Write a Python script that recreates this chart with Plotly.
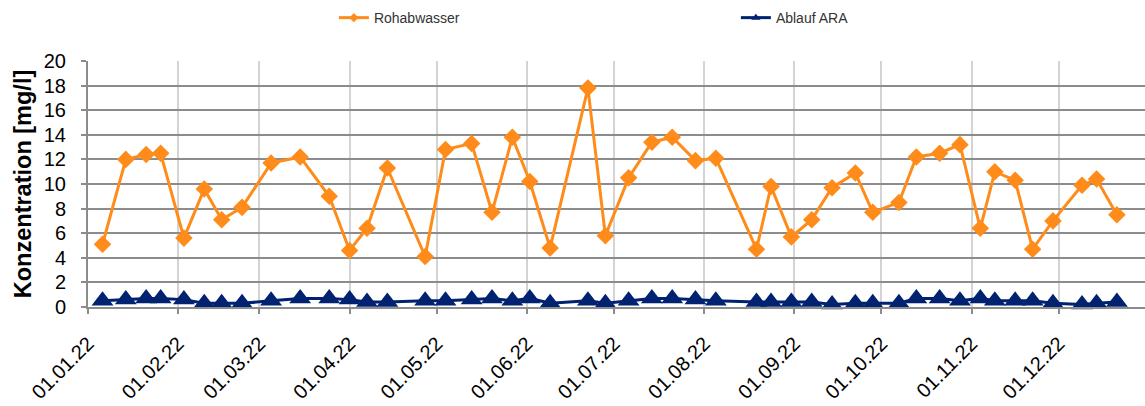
import plotly.graph_objects as go

dates = ["2022-01-06", "2022-01-14", "2022-01-21", "2022-01-26", "2022-02-03", "2022-02-10",
         "2022-02-16", "2022-02-23", "2022-03-05", "2022-03-15", "2022-03-25", "2022-04-01",
         "2022-04-07", "2022-04-14", "2022-04-27", "2022-05-04", "2022-05-13", "2022-05-20",
         "2022-05-27", "2022-06-02", "2022-06-09", "2022-06-22", "2022-06-28", "2022-07-06",
         "2022-07-14", "2022-07-21", "2022-07-29", "2022-08-05", "2022-08-19", "2022-08-24",
         "2022-08-31", "2022-09-07", "2022-09-14", "2022-09-22", "2022-09-28", "2022-10-07",
         "2022-10-13", "2022-10-21", "2022-10-28", "2022-11-04", "2022-11-09", "2022-11-16",
         "2022-11-22", "2022-11-29", "2022-12-09", "2022-12-14", "2022-12-21"]

rohabwasser = [5.1, 12.0, 12.4, 12.5, 5.6, 9.6, 7.1, 8.1, 11.7, 12.2, 9.0, 4.6,
               6.4, 11.3, 4.1, 12.8, 13.3, 7.7, 13.8, 10.2, 4.8, 17.8, 5.8, 10.5,
               13.4, 13.8, 11.9, 12.1, 4.7, 9.8, 5.7, 7.1, 9.7, 10.9, 7.7, 8.5,
               12.2, 12.5, 13.2, 6.4, 11.0, 10.3, 4.7, 7.0, 9.9, 10.4, 7.5]

ablauf_ara = [0.5, 0.6, 0.7, 0.7, 0.6, 0.3, 0.3, 0.3, 0.5, 0.7, 0.7, 0.6,
              0.4, 0.4, 0.5, 0.5, 0.6, 0.7, 0.5, 0.7, 0.3, 0.5, 0.3, 0.5,
              0.7, 0.7, 0.6, 0.5, 0.4, 0.4, 0.4, 0.4, 0.2, 0.3, 0.3, 0.3,
              0.7, 0.7, 0.5, 0.7, 0.5, 0.5, 0.5, 0.3, 0.2, 0.3, 0.4]

tick_dates = ["2022-01-01", "2022-02-01", "2022-03-01", "2022-04-01", "2022-05-01", "2022-06-01",
              "2022-07-01", "2022-08-01", "2022-09-01", "2022-10-01", "2022-11-01", "2022-12-01"]
tick_labels = ["01.01.22", "01.02.22", "01.03.22", "01.04.22", "01.05.22", "01.06.22",
               "01.07.22", "01.08.22", "01.09.22", "01.10.22", "01.11.22", "01.12.22"]

ORANGE = "#FF8C1A"
NAVY = "#002270"
FONT = "Liberation Sans, Arial, sans-serif"

fig = go.Figure()
fig.add_trace(go.Scatter(
    x=dates, y=rohabwasser, mode="lines+markers", name="Rohabwasser",
    line=dict(color=ORANGE, width=3),
    marker=dict(symbol="diamond", size=13.5, color=ORANGE),
    cliponaxis=False, showlegend=False))
fig.add_trace(go.Scatter(
    x=dates, y=ablauf_ara, mode="lines+markers", name="Ablauf ARA",
    line=dict(color=NAVY, width=3),
    marker=dict(symbol="triangle-up", size=19, color=NAVY),
    cliponaxis=False, showlegend=False))
# legend entries (small markers as in the reference legend)
fig.add_trace(go.Scatter(
    x=[None], y=[None], mode="lines+markers", name="Rohabwasser",
    line=dict(color=ORANGE, width=3),
    marker=dict(symbol="diamond", size=7, color=ORANGE)))
fig.add_trace(go.Scatter(
    x=[None], y=[None], mode="lines+markers", name="Ablauf ARA",
    line=dict(color=NAVY, width=3),
    marker=dict(symbol="triangle-up", size=8, color=NAVY)))

fig.update_layout(
    width=1145, height=406,
    margin=dict(l=88, r=0, t=61, b=99, autoexpand=False),
    paper_bgcolor="white", plot_bgcolor="white",
    font=dict(family=FONT, color="black"),
    legend=dict(
        orientation="h", xref="container", yref="container",
        x=0.2916, y=0.995, xanchor="left", yanchor="top",
        entrywidth=357, entrywidthmode="pixels",
        font=dict(size=14, color="#333333", family=FONT),
        itemsizing="trace", bgcolor="rgba(0,0,0,0)"),
)
fig.update_xaxes(
    type="date", range=["2022-01-01", "2022-12-30 16:00"], automargin=False,
    tickmode="array", tickvals=tick_dates, ticktext=tick_labels,
    tickangle=-45, tickfont=dict(size=20, family=FONT, color="black"),
    ticklabelstandoff=10,
    showgrid=True, gridcolor="#d4d4d4", gridwidth=2,
    showline=True, linecolor="#8c8c8c", linewidth=2,
    ticks="outside", ticklen=5, tickcolor="#8c8c8c", tickwidth=2,
    zeroline=False)
fig.update_yaxes(
    range=[0, 20], dtick=2, tick0=0, automargin=False,
    tickfont=dict(size=20, family=FONT, color="black"),
    ticklabelstandoff=11,
    showgrid=True, gridcolor="#8c8c8c", gridwidth=2,
    showline=True, linecolor="#8c8c8c", linewidth=2,
    ticks="outside", ticklen=5, tickcolor="#8c8c8c", tickwidth=2,
    zeroline=False,
    title=dict(text="<b>Konzentration [mg/l]</b>", font=dict(size=23.5, family=FONT, color="black"),
               standoff=6))

fig.write_html("out.html", config={"displayModeBar": False},
               post_script="document.body.style.margin='0';document.body.style.overflow='hidden';")
